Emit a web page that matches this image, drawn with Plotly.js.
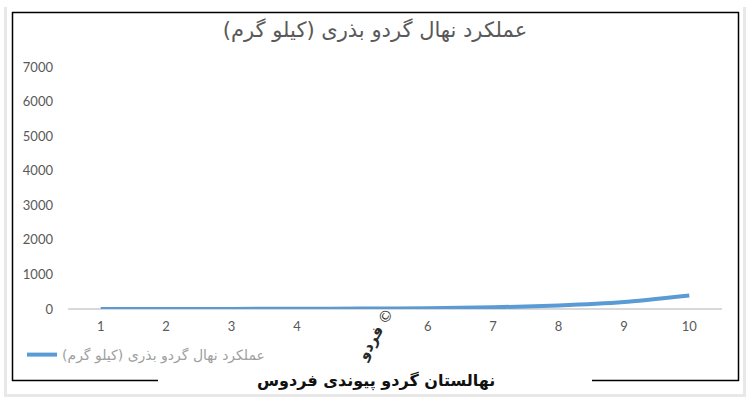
<!DOCTYPE html>
<html>
<head>
<meta charset="utf-8">
<script src="https://cdn.plot.ly/plotly-3.0.1.min.js"></script>
<style>html,body{margin:0;padding:0;background:#fff;}#chart{width:750px;height:400px;}</style>
</head>
<body>
<div id="chart"></div>
<script>
const years = [1, 2, 3, 4, 5, 6, 7, 8, 9, 10];
const yieldKg = [1, 2, 3, 6, 12, 25, 50, 100, 200, 390];
const xTickLabels = ['1', '2', '3', '4', '5', '6', '7', '8', '9', '10'];
const hiddenByLogo = '5';
const yTicks = [0, 1000, 2000, 3000, 4000, 5000, 6000, 7000];
const seriesName = 'عملکرد نهال گردو بذری (کیلو گرم)';
const chartTitle = 'عملکرد نهال گردو بذری (کیلو گرم)';
const footerText = 'نهالستان گردو پیوندی فردوس';
const logoText = 'فردو';

// pixel -> paper helpers (plot area: x 68..722, y 67..309)
const L = 68, R = 722, T = 67, B = 309;
const px = v => (v - L) / (R - L);
const py = v => 1 - (v - T) / (B - T);

const frame = '#000000';
const shapes = [
  {type:'rect', xref:'paper', yref:'paper', x0:px(4), x1:px(7), y0:py(7), y1:py(397), fillcolor:'#e8e8e8', line:{width:0}, layer:'below'},
  {type:'rect', xref:'paper', yref:'paper', x0:px(743), x1:px(746), y0:py(7), y1:py(397), fillcolor:'#e8e8e8', line:{width:0}, layer:'below'},
  {type:'rect', xref:'paper', yref:'paper', x0:px(4), x1:px(746), y0:py(394), y1:py(397), fillcolor:'#e8e8e8', line:{width:0}, layer:'below'},
  {type:'line', xref:'paper', yref:'paper', x0:px(12), x1:px(739), y0:py(12.5), y1:py(12.5), line:{color:frame, width:1.5}},
  {type:'line', xref:'paper', yref:'paper', x0:px(12.5), x1:px(12.5), y0:py(12), y1:py(381), line:{color:frame, width:1.5}},
  {type:'line', xref:'paper', yref:'paper', x0:px(738.5), x1:px(738.5), y0:py(12), y1:py(381), line:{color:frame, width:1.5}},
  {type:'line', xref:'paper', yref:'paper', x0:px(12), x1:px(158), y0:py(380.5), y1:py(380.5), line:{color:frame, width:1.5}},
  {type:'line', xref:'paper', yref:'paper', x0:px(592), x1:px(739), y0:py(380.5), y1:py(380.5), line:{color:frame, width:1.5}}
];

const trace = {
  x: years,
  y: yieldKg,
  type: 'scatter',
  mode: 'lines',
  name: seriesName,
  line: {color: '#5b9bd5', width: 4, shape: 'spline', smoothing: 0.6},
  hoverinfo: 'x+y'
};

const layout = {
  width: 750,
  height: 400,
  margin: {l: L, r: 750 - R, t: T, b: 400 - B},
  paper_bgcolor: '#ffffff',
  plot_bgcolor: '#ffffff',
  font: {family: '"DejaVu Sans", "Liberation Sans", sans-serif', color: '#595959'},
  title: {
    text: chartTitle,
    font: {family: '"DejaVu Sans", sans-serif', size: 21, color: '#595959'},
    x: 0.5, xanchor: 'center',
    y: 1 - 30 / 400, yanchor: 'middle', yref: 'container'
  },
  xaxis: {
    range: [0.5, 10.5],
    tickmode: 'array',
    tickvals: years,
    ticktext: xTickLabels.map(t => (t === hiddenByLogo ? '' : t)),
    showgrid: false,
    zeroline: false,
    showline: false,
    ticks: '',
    ticklabelstandoff: 8,
    tickfont: {family: 'Lato, "Liberation Sans", sans-serif', size: 13, color: '#595959'},
    fixedrange: true
  },
  yaxis: {
    range: [0, 7000],
    tickmode: 'array',
    tickvals: yTicks,
    showgrid: false,
    zeroline: true,
    zerolinecolor: '#d9d9d9',
    zerolinewidth: 1.5,
    showline: false,
    ticks: '',
    ticklabelstandoff: 14,
    tickfont: {family: 'Lato, "Liberation Sans", sans-serif', size: 13, color: '#595959'},
    fixedrange: true
  },
  showlegend: true,
  legend: {
    orientation: 'h',
    x: px(22), xanchor: 'left',
    y: py(355), yanchor: 'middle',
    font: {family: '"DejaVu Sans", sans-serif', size: 14, color: '#a0a0a0'},
    bgcolor: 'rgba(0,0,0,0)'
  },
  shapes: shapes,
  annotations: [
    {
      text: '<b>' + footerText + '</b>',
      xref: 'paper', yref: 'paper',
      x: px(376), y: py(381),
      xanchor: 'center', yanchor: 'middle',
      showarrow: false,
      font: {family: '"DejaVu Sans", sans-serif', size: 16, color: '#111111'}
    },
    {
      text: '<b>' + logoText + '</b> ©',
      xref: 'paper', yref: 'paper',
      x: px(375), y: py(335),
      xanchor: 'center', yanchor: 'middle',
      showarrow: false,
      textangle: -60,
      font: {family: '"DejaVu Sans", sans-serif', size: 15, color: '#2a2a2a'}
    }
  ]
};

Plotly.newPlot('chart', [trace], layout, {displayModeBar: false, staticPlot: true});
</script>
</body>
</html>
